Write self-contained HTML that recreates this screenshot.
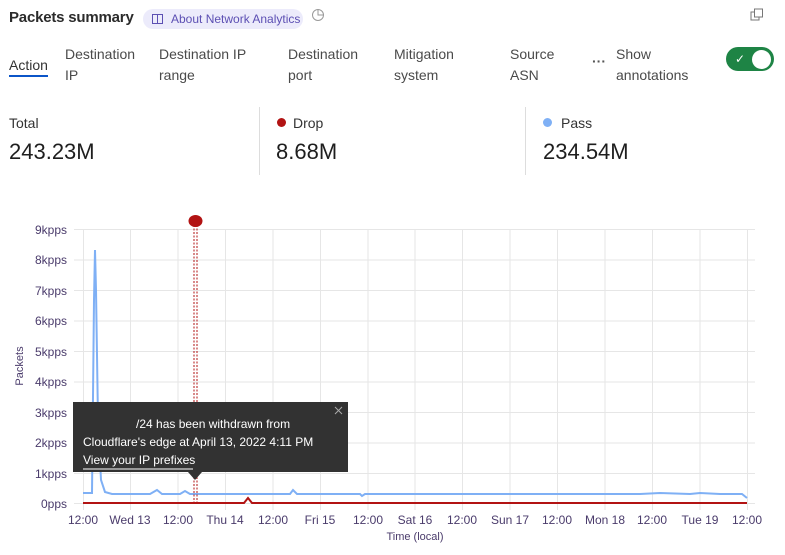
<!DOCTYPE html>
<html><head><meta charset="utf-8"><style>
body{margin:0;width:785px;height:555px;background:#fff;font-family:"Liberation Sans",sans-serif;color:#313131;position:relative;overflow:hidden}
.a{position:absolute;white-space:nowrap}
.tab{font-size:14px;line-height:21px;color:#4a4a4a}
</style></head><body>
<div class="a" style="left:9px;top:9px;font-size:15px;font-weight:bold;color:#2b2b2b;letter-spacing:-0.2px">Packets summary</div>
<div class="a" style="left:143px;top:9px;width:160px;height:20px;border-radius:10px;background:#ecebfb"></div>
<svg class="a" style="left:152px;top:14px" width="11" height="10"><rect x="0.5" y="0.5" width="10" height="9" fill="none" stroke="#5c4fb3"/><line x1="5.5" y1="0" x2="5.5" y2="10" stroke="#5c4fb3"/></svg>
<div class="a" style="left:171px;top:12px;font-size:12px;color:#5c4fb3">About Network Analytics</div>
<svg class="a" style="left:311px;top:8px" width="14" height="14"><circle cx="7" cy="7" r="5.5" fill="none" stroke="#999"/><path d="M7 1.5V7H12.5" fill="none" stroke="#999"/></svg>
<svg class="a" style="left:750px;top:8px" width="14" height="14"><rect x="1" y="4" width="8" height="8" fill="#fff" stroke="#777"/><rect x="4.5" y="1" width="8" height="8" fill="#fff" stroke="#777"/></svg>

<div class="a tab" style="left:9px;top:55px;color:#333">Action</div>
<div class="a" style="left:9px;top:75px;width:39px;height:2px;background:#0b55c8"></div>
<div class="a tab" style="left:65px;top:44px">Destination<br>IP</div>
<div class="a tab" style="left:159px;top:44px">Destination IP<br>range</div>
<div class="a tab" style="left:288px;top:44px">Destination<br>port</div>
<div class="a tab" style="left:394px;top:44px">Mitigation<br>system</div>
<div class="a tab" style="left:510px;top:44px">Source<br>ASN</div>
<div class="a" style="left:592px;top:53px;font-size:14px;font-weight:bold;color:#555">···</div>
<div class="a tab" style="left:616px;top:44px">Show<br>annotations</div>
<div class="a" style="left:726px;top:47px;width:48px;height:24px;border-radius:12px;background:#1e8445"></div>
<div class="a" style="left:752px;top:50px;width:19px;height:19px;border-radius:50%;background:#fff"></div>
<div class="a" style="left:735px;top:52px;font-size:12px;color:#fff">✓</div>

<div class="a" style="left:9px;top:115px;font-size:14px;color:#333">Total</div>
<div class="a" style="left:9px;top:139px;font-size:22px;color:#1e1e1e">243.23M</div>
<div class="a" style="left:259px;top:107px;width:1px;height:68px;background:#ddd"></div>
<div class="a" style="left:277px;top:118px;width:9px;height:9px;border-radius:50%;background:#b21313"></div>
<div class="a" style="left:293px;top:115px;font-size:14px;color:#333">Drop</div>
<div class="a" style="left:276px;top:139px;font-size:22px;color:#1e1e1e">8.68M</div>
<div class="a" style="left:525px;top:107px;width:1px;height:68px;background:#ddd"></div>
<div class="a" style="left:543px;top:118px;width:9px;height:9px;border-radius:50%;background:#7fb0f5"></div>
<div class="a" style="left:561px;top:115px;font-size:14px;color:#333">Pass</div>
<div class="a" style="left:543px;top:139px;font-size:22px;color:#1e1e1e">234.54M</div>

<svg class="a" style="left:0;top:0" width="785" height="555" font-family="Liberation Sans, sans-serif">
<g stroke="#e6e6e6" stroke-width="1">
<line x1="74" y1="229.5" x2="755" y2="229.5"/><line x1="74" y1="260" x2="755" y2="260"/><line x1="74" y1="290.5" x2="755" y2="290.5"/><line x1="74" y1="321" x2="755" y2="321"/><line x1="74" y1="351.5" x2="755" y2="351.5"/><line x1="74" y1="382" x2="755" y2="382"/><line x1="74" y1="412.5" x2="755" y2="412.5"/><line x1="74" y1="443" x2="755" y2="443"/><line x1="74" y1="473.5" x2="755" y2="473.5"/><line x1="74" y1="503.5" x2="755" y2="503.5"/>
<line x1="83.5" y1="229" x2="83.5" y2="510"/><line x1="130.5" y1="229" x2="130.5" y2="510"/><line x1="178" y1="229" x2="178" y2="510"/><line x1="225.5" y1="229" x2="225.5" y2="510"/><line x1="273" y1="229" x2="273" y2="510"/><line x1="320.5" y1="229" x2="320.5" y2="510"/><line x1="368" y1="229" x2="368" y2="510"/><line x1="415" y1="229" x2="415" y2="510"/><line x1="462.5" y1="229" x2="462.5" y2="510"/><line x1="510" y1="229" x2="510" y2="510"/><line x1="557.5" y1="229" x2="557.5" y2="510"/><line x1="605" y1="229" x2="605" y2="510"/><line x1="652.5" y1="229" x2="652.5" y2="510"/><line x1="700" y1="229" x2="700" y2="510"/><line x1="747.5" y1="229" x2="747.5" y2="510"/>
</g>
<g font-size="12" fill="#4a3b6b" text-anchor="end">
<text x="67" y="234">9kpps</text><text x="67" y="264">8kpps</text><text x="67" y="295">7kpps</text><text x="67" y="325">6kpps</text><text x="67" y="356">5kpps</text><text x="67" y="386">4kpps</text><text x="67" y="417">3kpps</text><text x="67" y="447">2kpps</text><text x="67" y="478">1kpps</text><text x="67" y="508">0pps</text>
</g>
<text transform="translate(23,366) rotate(-90)" font-size="11" fill="#4a3b6b" text-anchor="middle">Packets</text>
<g font-size="12" fill="#4a3b6b" text-anchor="middle">
<text x="83" y="524">12:00</text><text x="130" y="524">Wed 13</text><text x="178" y="524">12:00</text><text x="225" y="524">Thu 14</text><text x="273" y="524">12:00</text><text x="320" y="524">Fri 15</text><text x="368" y="524">12:00</text><text x="415" y="524">Sat 16</text><text x="462" y="524">12:00</text><text x="510" y="524">Sun 17</text><text x="557" y="524">12:00</text><text x="605" y="524">Mon 18</text><text x="652" y="524">12:00</text><text x="700" y="524">Tue 19</text><text x="747" y="524">12:00</text>
</g>
<text x="415" y="540" font-size="11" fill="#4a3b6b" text-anchor="middle">Time (local)</text>
<polyline fill="none" stroke="#7fb0f5" stroke-width="2" points="83,493 92,493 94,300 95,250 96,290 98,420 101,480 105,492 112,494 150,494 157,490 162,494 180,494 185,491 190,494 240,494 260,494 290,494 293,490 297,494 330,494 360,494 362,496 365,494 420,494 480,494 540,494 600,494 640,494 660,493 690,494 700,493 720,494 742,494 747,498"/>
<polyline fill="none" stroke="#b21313" stroke-width="2" points="83,503 244,503 248,498 252,503 747,503"/>
<line x1="194" y1="225" x2="194" y2="503" stroke="#b21313" stroke-width="1" stroke-dasharray="2,1.5"/>
<line x1="197" y1="225" x2="197" y2="503" stroke="#b21313" stroke-width="1" stroke-dasharray="2,1.5"/>
<ellipse cx="195.5" cy="221" rx="7" ry="6" fill="#b21313"/>
<rect x="73" y="402" width="275" height="70" fill="#323232"/>
<polygon points="188,472 202,472 195,480" fill="#323232"/>
<path d="M335 407l7 7M342 407l-7 7" stroke="#aaa" stroke-width="1"/>
<g font-size="12" fill="#fff">
<text x="136" y="428">/24 has been withdrawn from</text>
<text x="83" y="446">Cloudflare's edge at April 13, 2022 4:11 PM</text>
<text x="83" y="464">View your IP prefixes</text>
</g>
<line x1="83" y1="469" x2="193" y2="469" stroke="#fff"/>
</svg>
</body></html>
